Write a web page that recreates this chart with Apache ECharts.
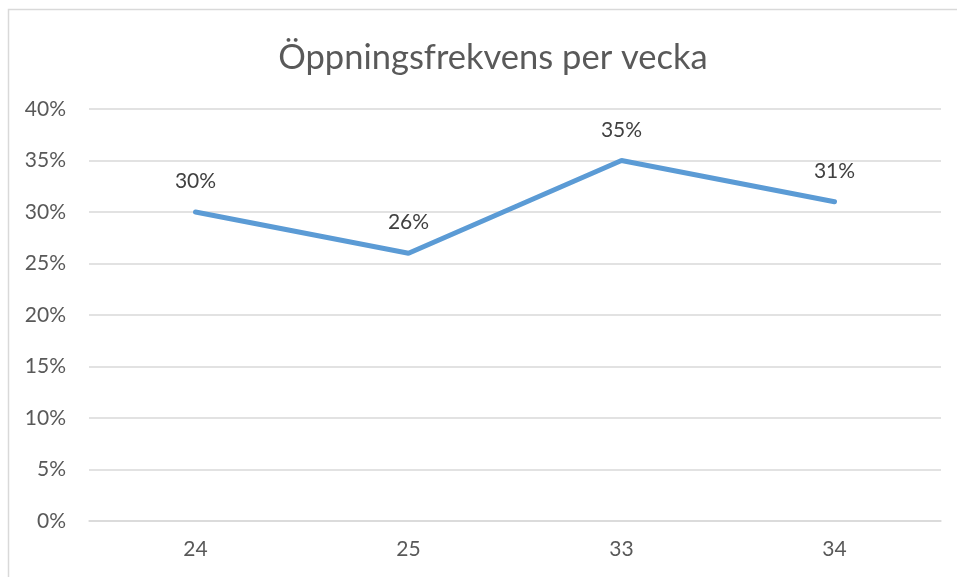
<!DOCTYPE html>
<html>
<head>
<meta charset="utf-8">
<script src="https://cdn.jsdelivr.net/npm/echarts@6/dist/echarts.min.js"></script>
<style>
  html, body { margin: 0; padding: 0; background: #ffffff; }
  #chart { width: 957px; height: 577px; }
</style>
</head>
<body>
<div id="chart"></div>
<script>
// veckor och öppningsfrekvens (%)
const weeks = ['24', '25', '33', '34']
const openRate = [30, 26, 35, 31]
const yTicks = [0, 5, 10, 15, 20, 25, 30, 35, 40]

const font = 'Lato, "Open Sans", sans-serif'
const chart = echarts.init(document.getElementById('chart'))

chart.setOption({
  animation: false,
  backgroundColor: '#ffffff',
  graphic: [
    {
      type: 'rect',
      shape: { x: 8.5, y: 9.5, width: 1000, height: 700 },
      style: { fill: 'none', stroke: '#d9d9d9', lineWidth: 1.5 },
      silent: true,
    },
  ],
  title: {
    text: 'Öppningsfrekvens per vecka',
    left: 488,
    top: 35,
    textAlign: 'center',
    textStyle: {
      fontFamily: font,
      fontSize: 34.5,
      fontWeight: 'normal',
      color: '#595959',
    },
  },
  grid: {
    left: 89,
    right: 16,
    top: 109,
    bottom: 56,
    containLabel: false,
  },
  xAxis: {
    type: 'category',
    data: weeks,
    boundaryGap: true,
    axisLine: { show: true, lineStyle: { color: '#d9d9d9', width: 1.5 } },
    axisTick: { show: false },
    axisLabel: {
      margin: 18,
      fontFamily: font,
      fontSize: 21,
      color: '#595959',
    },
  },
  yAxis: {
    type: 'value',
    min: yTicks[0],
    max: yTicks[yTicks.length - 1],
    interval: 5,
    axisLine: { show: false },
    axisTick: { show: false },
    axisLabel: {
      margin: 23,
      fontFamily: font,
      fontSize: 21,
      color: '#595959',
      formatter: (v) => v + '%',
    },
    splitLine: { lineStyle: { color: '#d9d9d9', width: 1.5 } },
  },
  series: [
    {
      type: 'line',
      data: openRate,
      symbol: 'circle',
      symbolSize: 0.1,
      showSymbol: true,
      lineStyle: { color: '#5b9bd5', width: 5, cap: 'round' },
      itemStyle: { color: '#5b9bd5' },
      label: {
        show: true,
        position: 'top',
        distance: 20,
        fontFamily: font,
        fontSize: 21,
        color: '#404040',
        formatter: (p) => p.value + '%',
      },
    },
  ],
})
</script>
</body>
</html>
